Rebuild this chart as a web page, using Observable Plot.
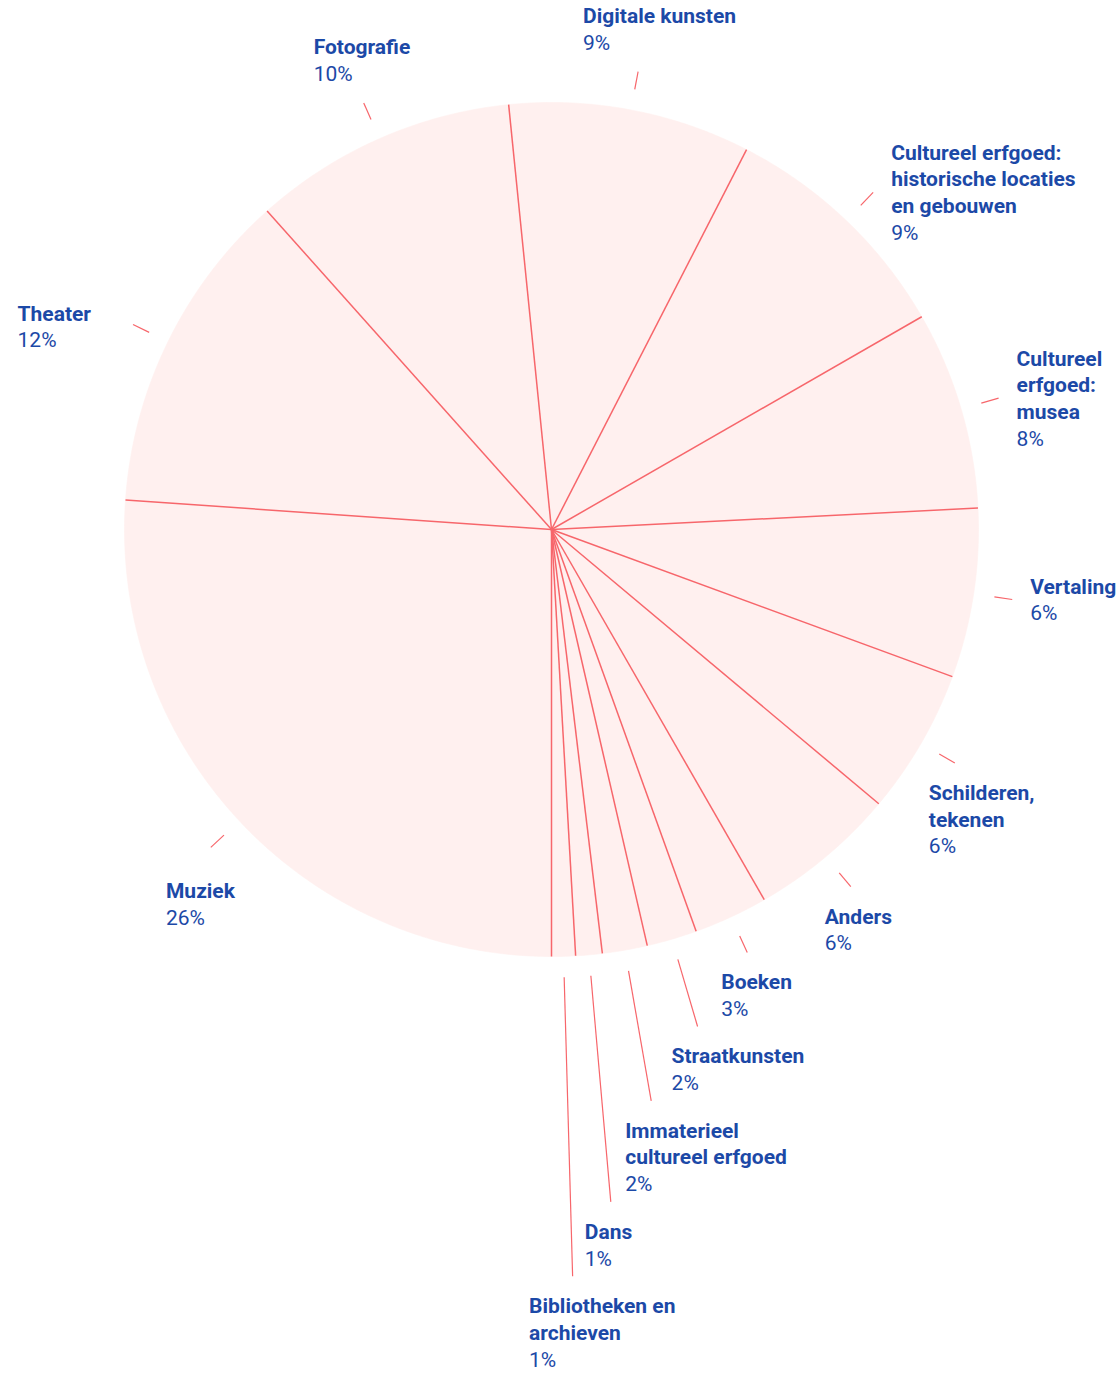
<!DOCTYPE html>
<html><head><meta charset="utf-8">
<script src="https://cdn.jsdelivr.net/npm/d3@7"></script>
<script src="https://cdn.jsdelivr.net/npm/@observablehq/plot@0.6"></script>
<style>body{margin:0;background:#fff;}</style>
</head><body><div id="chart"></div>
<script>
// ---- data ----
const categories = ["Muziek","Theater","Fotografie","Digitale kunsten",
  "Cultureel erfgoed:\nhistorische locaties\nen gebouwen","Cultureel\nerfgoed:\nmusea",
  "Vertaling","Schilderen,\ntekenen","Anders","Boeken","Straatkunsten",
  "Immaterieel\ncultureel erfgoed","Dans","Bibliotheken en\narchieven"];
const shares = [26.1, 12.3, 10.0, 9.15, 9.15, 7.5, 6.4, 5.5, 5.6, 2.8, 1.9, 1.7, 1.0, 0.9];
const percentLabels = ["26%","12%","10%","9%","9%","8%","6%","6%","6%","3%","2%","2%","1%","1%"];

// ---- layout constants ----
const W = 1119, H = 1375, CX = 551, CY = 529, R = 427;
const FS = 21, LINE = 26.7, LH = LINE / FS, CAP = FS * 0.711;
const BLUE = "#1c49a7", RED = "#f7666b", PINK = "#fff0ef";
const toRad = d => d * Math.PI / 180;
const pt = (theta, r) => ({x: r * Math.sin(toRad(theta)), y: r * Math.cos(toRad(theta))});

const total = d3.sum(shares);
const startAngle = 180;
let acc = 0;
const slices = categories.map((name, i) => {
  const a0 = startAngle + acc / total * 360;
  acc += shares[i];
  const a1 = startAngle + acc / total * 360;
  return {name, pct: percentLabels[i], a0, a1, mid: ((a0 + a1) / 2) % 360};
});

// polygon points for each wedge
const wedgePts = [];
for (const s of slices) {
  wedgePts.push({name: s.name, x: 0, y: 0});
  const steps = Math.max(2, Math.ceil((s.a1 - s.a0) / 0.5));
  for (let k = 0; k <= steps; k++) {
    const p = pt(s.a0 + (s.a1 - s.a0) * k / steps, R);
    wedgePts.push({name: s.name, x: p.x, y: p.y});
  }
  wedgePts.push({name: s.name, x: 0, y: 0});
}

// text measurement
const ctx = document.createElement("canvas").getContext("2d");
function textW(str, weight) { ctx.font = `${weight} ${FS}px Roboto`; return ctx.measureText(str).width; }

const labels = slices.map(s => {
  const nameLines = s.name.split("\n");
  const w = Math.max(...nameLines.map(l => textW(l, "bold")), textW(s.pct, "normal"));
  const n = nameLines.length + 1;
  return {...s, w, n, nName: nameLines.length, boxH: CAP + (n - 1) * LINE, rOut: 466};
});

function place(L) {
  const th = L.mid;
  const px = L.rOut * Math.sin(toRad(th)), py = -L.rOut * Math.cos(toRad(th)); // screen offsets (y down)
  let left, top;
  if (th >= 105 && th < 255) {
    if (th <= 180) { top = py + 22; left = px - 26 - (th > 176 ? 0.12 * L.w : 0); }
    else { top = py + 36; left = px - 0.65 * L.w; }
  }
  else if (th >= 30 && th < 105) { left = px + 18; top = py - L.boxH / 2; }
  else if (th >= 255 && th < 315) { left = px - 42 - L.w; top = py + 2 - L.boxH / 2; }
  else { top = py - 22 - L.boxH; left = px - L.w * (0.41 - 0.27 * Math.sin(toRad(th))); }
  Object.assign(L, {px, py, left, top});
}
labels.forEach(place);

// stack crowded labels in the lower right: each one goes below the earlier ones it meets horizontally
const GAP = 32, XPAD = 22;
const group = labels.filter(l => l.mid >= 105 && l.mid <= 180).sort((a, b) => a.mid - b.mid);
const placed = [];
const blocked = (a, b) => a.left < b.left + b.w + XPAD && b.left < a.left + a.w + XPAD &&
  a.top < b.top + b.boxH + GAP;
for (const L of group) {
  while (placed.some(p => blocked(L, p)) && L.rOut < 900) { L.rOut += 1; place(L); }
  placed.push(L);
}

labels.forEach(L => {
  L.nameBase = L.top + CAP + (L.nName - 1) * LINE;
  L.pctBase = L.nameBase + LINE;
});

const chart = Plot.plot({
  width: W, height: H, margin: 0,
  x: {domain: [-CX, W - CX], axis: null},
  y: {domain: [-(H - CY), CY], axis: null},
  marks: [
    Plot.line(wedgePts, {x: "x", y: "y", z: "name", fill: PINK, stroke: PINK, strokeWidth: 0.6}),
    Plot.link(slices, {x1: d => 0, y1: d => 0, x2: d => pt(d.a0, R).x, y2: d => pt(d.a0, R).y,
      stroke: RED, strokeWidth: 1.5}),
    Plot.link(labels, {x1: d => pt(d.mid, 448).x, y1: d => pt(d.mid, 448).y,
      x2: d => pt(d.mid, d.rOut).x, y2: d => pt(d.mid, d.rOut).y, stroke: RED, strokeWidth: 1.2}),
    Plot.text(labels, {x: d => d.left, y: d => -d.nameBase, text: "name", textAnchor: "start",
      lineAnchor: "bottom", lineHeight: LH, fontSize: FS, fontWeight: "bold", fontFamily: "Roboto", fill: BLUE}),
    Plot.text(labels, {x: d => d.left, y: d => -d.pctBase, text: "pct", textAnchor: "start",
      lineAnchor: "bottom", fontSize: FS, fontWeight: "normal", fontFamily: "Roboto", fill: BLUE})
  ]
});
document.getElementById("chart").appendChild(chart);
</script>
</body></html>
